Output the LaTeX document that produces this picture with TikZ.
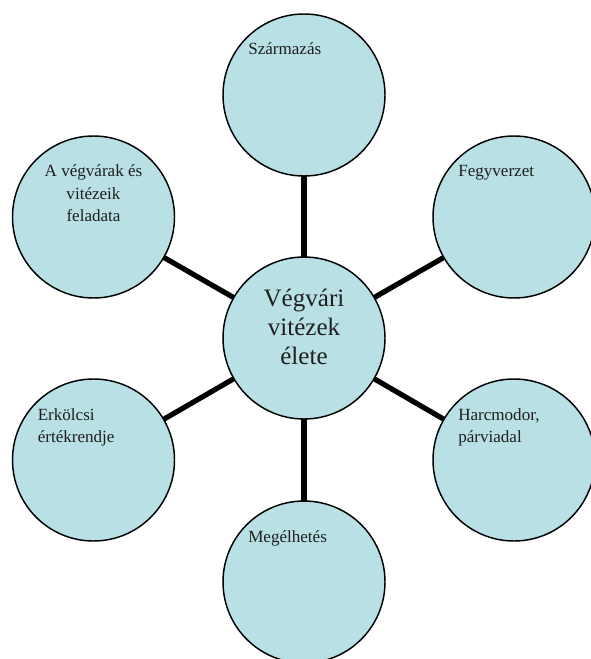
\documentclass[tikz,border=0pt]{standalone}
\usepackage{fontspec}
\setmainfont{Liberation Serif}
\usetikzlibrary{backgrounds}
\definecolor{bubblefill}{RGB}{185,224,228}
\begin{document}
\begin{tikzpicture}[x=0.75pt,y=-0.75pt,
  bubble/.style={circle, draw=black, line width=1.1pt, fill=bubblefill, minimum size=121.5pt, inner sep=0pt},
  smalltext/.style={font=\fontsize{12.8pt}{16.5pt}\selectfont, inner sep=0pt, text=black!88},
  bigtext/.style={font=\fontsize{18.8pt}{21.75pt}\selectfont, inner sep=0pt, text=black!88},
  link/.style={line width=3.9pt, draw=black}]
\useasboundingbox (0,0) rectangle (591,659);
\node[bubble] (center) at (304,338) {};
\node[bubble] (top) at (304,95) {};
\node[bubble] (lt) at (93.5,217) {};
\node[bubble] (rt) at (514,217) {};
\node[bubble] (lb) at (93.5,460) {};
\node[bubble] (rb) at (514,460) {};
\node[bubble] (bot) at (304,582) {};
\begin{scope}[on background layer]
\foreach \n in {top,lt,rt,lb,rb,bot}
  \draw[link] (center.center) -- (\n.center);
\end{scope}
% multi-line nodes: the base anchor is the last line's baseline
\node[bigtext, align=center, anchor=base] (ctext) at ([shift={(0,26)}]center.center) {Végvári\\vitézek\\élete};
\node[smalltext, anchor=base west] (ttop) at ([shift={(-56,-40)}]top.center) {Származás};
\node[smalltext, align=center, anchor=base] (tlt) at ([shift={(0,4)}]lt.center) {A végvárak és\\vitézeik\\feladata};
\node[smalltext, anchor=base west] (trt) at ([shift={(-56,-40)}]rt.center) {Fegyverzet};
\node[smalltext, align=left, anchor=base west] (tlb) at ([shift={(-56,-18)}]lb.center) {Erkölcsi\\értékrendje};
\node[smalltext, align=left, anchor=base west] (trb) at ([shift={(-56,-18)}]rb.center) {Harcmodor,\\párviadal};
\node[smalltext, anchor=base west] (tbot) at ([shift={(-56,-40)}]bot.center) {Megélhetés};
\end{tikzpicture}
\end{document}
